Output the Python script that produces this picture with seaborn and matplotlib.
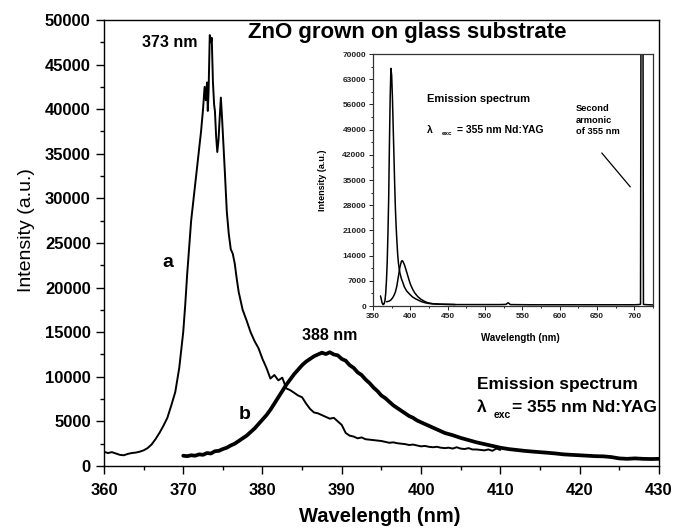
import matplotlib
matplotlib.use("Agg")
import matplotlib.pyplot as plt
import numpy as np
import pandas as pd
import seaborn as sns
from matplotlib.ticker import MultipleLocator

# ---------------- data ----------------
# Main panel, curve a (sharp band-edge emission, peak 373 nm)
a_wl = [360.0, 360.5, 361.0, 361.5, 362.0, 362.5, 363.0, 363.5, 364.0, 364.5,
        365.0, 365.5, 366.0, 366.5, 367.0, 367.5, 368.0, 368.5, 369.0, 369.5,
        370.0, 370.25, 370.5, 370.75, 371.0, 371.25, 371.5, 371.75, 372.0, 372.25,
        372.5, 372.7, 372.85, 373.0, 373.1, 373.2, 373.35, 373.5, 373.6, 373.75,
        373.9, 374.0, 374.15, 374.3, 374.45, 374.6, 374.75, 374.9, 375.0, 375.25,
        375.5, 375.75, 376.0, 376.25, 376.5, 376.75, 377.0, 377.5, 378.0, 378.5,
        379.0, 379.5, 380.0, 380.5, 381.0, 381.5, 382.0, 382.5, 383.0, 383.5,
        384.0, 384.5, 385.0, 385.5, 386.0, 386.5, 387.0, 387.5, 388.0, 388.5,
        389.0, 389.5, 390.0, 390.5, 391.0, 391.5, 392.0, 392.5, 393.0, 393.5,
        394.0, 394.5, 395.0, 395.5, 396.0, 396.5, 397.0, 397.5, 398.0, 398.5,
        399.0, 399.5, 400.0, 400.5, 401.0, 401.5, 402.0, 402.5, 403.0, 403.5,
        404.0, 404.5, 405.0, 405.5, 406.0, 406.5, 407.0, 407.5, 408.0, 408.5,
        409.0, 409.5, 410.0]
a_int = [1600, 1450, 1550, 1400, 1250, 1200, 1350, 1450, 1500, 1600,
         1750, 2000, 2400, 3000, 3700, 4500, 5400, 6800, 8300, 11000,
         15000, 18000, 21500, 24500, 27500, 29500, 31500, 33500, 35500, 37500,
         40000, 42500, 41000, 43000, 39800, 42000, 48300, 47500, 48000, 43000,
         40500, 39800, 37000, 35200, 36500, 39000, 41300, 39000, 37300, 33000,
         28500, 26000, 24300, 23800, 22700, 21000, 19500, 17500, 16300, 15000,
         14000, 13200, 12000, 11000, 9800, 10200, 9600, 9900, 8700, 8500,
         8200, 7900, 7700, 7000, 6400, 6000, 5900, 5700, 5500, 5300,
         5400, 5000, 4600, 3700, 3400, 3300, 3100, 3200, 3000, 2950,
         2900, 2850, 2800, 2700, 2600, 2650, 2550, 2500, 2450, 2350,
         2400, 2300, 2200, 2250, 2150, 2100, 2150, 2050, 2000, 2050,
         1950, 2100, 1950, 1900, 2000, 1850, 1850, 1800, 1750, 1850,
         1700, 1950, 1800]

# Main panel, curve b (broad emission, peak 388 nm)
b_wl = [370, 370.5, 371, 371.5, 372, 372.5, 373, 373.5, 374, 374.5,
        375, 375.5, 376, 376.5, 377, 377.5, 378, 378.5, 379, 379.5,
        380, 380.5, 381, 381.5, 382, 382.5, 383, 383.5, 384, 384.5,
        385, 385.5, 386, 386.5, 387, 387.5, 388, 388.5, 389, 389.5,
        390, 390.5, 391, 391.5, 392, 392.5, 393, 393.5, 394, 394.5,
        395, 395.5, 396, 396.5, 397, 397.5, 398, 398.5, 399, 399.5,
        400, 401, 402, 403, 404, 405, 406, 407, 408, 409,
        410, 411, 412, 413, 414, 415, 416, 417, 418, 419,
        420, 421, 422, 423, 424, 425, 426, 427, 428, 429, 430, 431]
b_int = [1150, 1100, 1200, 1150, 1300, 1250, 1450, 1400, 1650, 1700,
         1900, 2050, 2300, 2500, 2800, 3100, 3400, 3800, 4200, 4700,
         5200, 5700, 6300, 7000, 7700, 8400, 9100, 9700, 10300, 10800,
         11300, 11700, 12000, 12300, 12500, 12700, 12550, 12750, 12500, 12400,
         12000, 11800, 11300, 11000, 10500, 10200, 9700, 9300, 8800, 8400,
         7900, 7600, 7200, 6800, 6500, 6200, 5900, 5600, 5400, 5100,
         4900, 4500, 4100, 3700, 3450, 3150, 2900, 2650, 2450, 2250,
         2050, 1900, 1800, 1700, 1620, 1550, 1480, 1400, 1300, 1250,
         1200, 1150, 1100, 1080, 1000, 850, 800, 850, 800, 780, 800, 790]

# Inset, curve a (full range incl. second harmonic at 710 nm)
ia_wl = [360, 361, 362, 363, 364, 365, 366, 367, 368, 369,
         370, 371, 372, 373, 374, 375, 376, 377, 378, 379,
         380, 381, 382, 383, 384, 385, 386, 388, 390, 392,
         395, 399, 403, 407, 411, 415, 420, 425, 430, 440,
         460, 500, 520, 528, 531, 534, 560, 600, 650, 700,
         706, 708.3, 709, 711.5, 712.2, 714, 725]
ia_int = [2800, 2000, 1000, 500, 400, 700, 1500, 3500, 7000, 12000,
          20000, 30000, 45000, 58000, 66000, 64000, 58000, 50000, 42000, 34000,
          27000, 22000, 18000, 14500, 12000, 10500, 9200, 7600, 6500, 5300,
          4200, 3300, 2500, 2000, 1600, 1200, 900, 700, 600, 500,
          400, 400, 400, 450, 900, 400, 350, 350, 350, 350,
          400, 500, 90000, 90000, 500, 400, 300]

# Inset, curve b
ib_wl = [368, 370, 372, 374, 376, 378, 380, 382, 384, 386,
         388, 389, 390, 392, 394, 396, 398, 400, 403, 406,
         410, 414, 418, 422, 426, 430, 440, 460]
ib_int = [1200, 1250, 1400, 1700, 2200, 2900, 3900, 5600, 8200, 10800,
          12400, 12600, 12400, 11500, 10200, 8800, 7400, 6100, 4700, 3600,
          2600, 1900, 1400, 1000, 800, 650, 500, 420]

main_title = "ZnO grown on glass substrate"

# ---------------- styling ----------------
sns.set_theme(style="ticks")
plt.rcParams["font.family"] = ["Liberation Sans", "DejaVu Sans"]
plt.rcParams["axes.linewidth"] = 1.0
for key in ["text.color", "axes.labelcolor", "xtick.color", "ytick.color",
            "axes.edgecolor"]:
    plt.rcParams[key] = "black"

fig = plt.figure(figsize=(6.75, 5.3), dpi=100)
ax = fig.add_axes([0.154, 0.1208, 0.822, 0.8415])

df_a = pd.DataFrame({"wl": a_wl, "I": a_int})
df_b = pd.DataFrame({"wl": b_wl, "I": b_int})
sns.lineplot(data=df_a, x="wl", y="I", ax=ax, color="black", lw=1.4)
sns.lineplot(data=df_b, x="wl", y="I", ax=ax, color="black", lw=2.7)

ax.set_xlim(360, 430)
ax.set_ylim(0, 50000)
ax.xaxis.set_major_locator(MultipleLocator(10))
ax.xaxis.set_minor_locator(MultipleLocator(5))
ax.yaxis.set_major_locator(MultipleLocator(5000))
ax.yaxis.set_minor_locator(MultipleLocator(2500))
ax.tick_params(which="both", direction="out", top=False, right=False,
               colors="black", width=1.0)
ax.tick_params(which="major", length=6, labelsize=12)
ax.tick_params(axis="x", which="major", pad=6)
ax.tick_params(which="minor", length=3)
for lab in ax.get_xticklabels() + ax.get_yticklabels():
    lab.set_fontweight("bold")
for sp in ax.spines.values():
    sp.set_visible(True)
    sp.set_color("black")

ax.set_xlabel("Wavelength (nm)", fontsize=14.5, fontweight="bold")
ax.set_ylabel("Intensity (a.u.)", fontsize=14)
ax.xaxis.set_label_coords(0.497, -0.092)
ax.yaxis.set_label_coords(-0.125, 0.53)

ax.text(0.546, 0.971, main_title, transform=ax.transAxes, ha="center",
        va="center", fontsize=16, fontweight="bold")
ax.text(368.3, 47500, "373 nm", ha="center", va="center", fontsize=11.5,
        fontweight="bold")
ax.text(388.5, 14600, "388 nm", ha="center", va="center", fontsize=11.5,
        fontweight="bold")
ax.text(368.1, 22760, "a", ha="center", va="center", fontsize=14,
        fontweight="bold")
ax.text(377.8, 5720, "b", ha="center", va="center", fontsize=14,
        fontweight="bold")
ax.text(407.1, 9080, "Emission spectrum", ha="left", va="center",
        fontsize=12.5, fontweight="bold")
ax.annotate("λ", xy=(407.1, 6610), ha="left", va="center", fontsize=12.5,
            fontweight="bold")
ax.annotate("exc", xy=(407.1, 6610), xytext=(12, -6), textcoords="offset points",
            ha="left", va="center", fontsize=7.5, fontweight="bold")
ax.annotate("= 355 nm Nd:YAG", xy=(407.1, 6610), xytext=(25, 0),
            textcoords="offset points", ha="left", va="center", fontsize=12.5,
            fontweight="bold")

# ---------------- inset ----------------
axin = fig.add_axes([0.5526, 0.4226, 0.4148, 0.4755])
dfi_a = pd.DataFrame({"wl": ia_wl, "I": ia_int})
dfi_b = pd.DataFrame({"wl": ib_wl, "I": ib_int})
sns.lineplot(data=dfi_a, x="wl", y="I", ax=axin, color="black", lw=1.1)
sns.lineplot(data=dfi_b, x="wl", y="I", ax=axin, color="black", lw=1.1)
axin.set_xlim(350, 725)
axin.set_ylim(0, 70000)
axin.xaxis.set_major_locator(MultipleLocator(50))
axin.xaxis.set_minor_locator(MultipleLocator(25))
axin.yaxis.set_major_locator(MultipleLocator(7000))
axin.yaxis.set_minor_locator(MultipleLocator(3500))
axin.tick_params(which="both", direction="out", top=False, right=False,
                 colors="#222222", width=0.7)
axin.tick_params(which="major", length=3, labelsize=6, pad=2)
axin.tick_params(which="minor", length=1.6)
for lab in axin.get_xticklabels() + axin.get_yticklabels():
    lab.set_fontweight("bold")
for sp in axin.spines.values():
    sp.set_visible(True)
    sp.set_color("#333333")
    sp.set_linewidth(0.9)
axin.set_xlabel("Wavelength (nm)", fontsize=7, fontweight="bold")
axin.set_ylabel("Intensity (a.u.)", fontsize=6.5, fontweight="bold")
axin.xaxis.set_label_coords(0.525, -0.107)
axin.yaxis.set_label_coords(-0.164, 0.5)

axin.text(422, 57500, "Emission spectrum", ha="left", va="center", fontsize=8,
          fontweight="bold")
axin.annotate("λ", xy=(422, 48900), ha="left", va="center", fontsize=7.5,
              fontweight="bold")
axin.annotate("exc", xy=(422, 48900), xytext=(10.5, -2.5),
              textcoords="offset points", ha="left", va="center", fontsize=4.5,
              fontweight="bold")
axin.annotate("= 355 nm Nd:YAG", xy=(422, 48900), xytext=(22, 0),
              textcoords="offset points", ha="left", va="center", fontsize=7.5,
              fontweight="bold")
axin.text(622, 56000, "Second\narmonic\nof 355 nm", ha="left", va="top",
          fontsize=6.7, fontweight="bold", linespacing=1.35)
axin.annotate("", xy=(697, 32500), xytext=(654, 43100),
              arrowprops=dict(arrowstyle="-", color="black", lw=0.9))

fig.savefig("out.png", dpi=100)
